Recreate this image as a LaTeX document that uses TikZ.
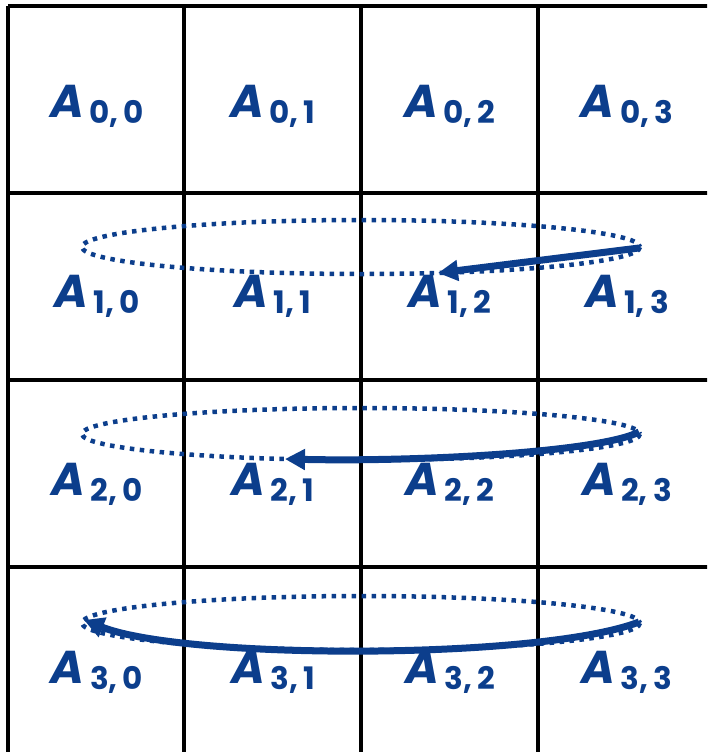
\documentclass[tikz,border=0pt]{standalone}
\usepackage{fontspec}
\setmainfont{Poppins}
\usetikzlibrary{arrows.meta}
\definecolor{ink}{RGB}{12,62,140}
\newcommand{\lbl}[2]{{\fontsize{46}{50}\selectfont\bfseries\itshape A}\raisebox{-6pt}{\fontsize{31}{34}\selectfont\bfseries\,#1,\,#2}}
\tikzset{
  grid/.style={line width=3.2pt, black},
  lab/.style={inner sep=0pt, anchor=base, text=ink},
  dotring/.style={ink, line width=4.5pt, dash pattern=on 4.5pt off 5.5pt},
  sweep/.style={ink, line width=7pt, -{Triangle[length=20pt,width=20pt]}}
}
\begin{document}
\begin{tikzpicture}[x=1pt,y=-1pt]
\useasboundingbox (0,0) rectangle (707,752);
\clip (0,0) rectangle (707,752);
% grid
\foreach \x in {8,184,361,538} \draw[grid] (\x,6) -- (\x,760);
\foreach \y in {6,193,380,567} \draw[grid] (8,\y) -- (720,\y);
% labels
\foreach \r/\yb in {0/117,1/307,2/495,3/683}{
  \foreach \c/\xc in {0/97,1/273,2/450,3/627}{
    \node[lab] (a\r\c) at (\xc,\yb) {\lbl{\r}{\c}};
  }
}
% dotted ellipses
\draw[dotring] (361,247) ellipse[x radius=279, y radius=27];
\draw[dotring] (361,434) ellipse[x radius=279, y radius=26];
\draw[dotring] (361,623) ellipse[x radius=279, y radius=27];
% arrow endpoints
\coordinate (s1) at (639,248);
\coordinate (e1) at (438,273);
\coordinate (s2) at (639,432);
\coordinate (c2a) at (600,452);
\coordinate (c2b) at (420,462);
\coordinate (e2) at (285,459);
\coordinate (s3) at (639,622);
\coordinate (c3a) at (540,660);
\coordinate (c3b) at (185,660);
\coordinate (e3) at (84,620);
\draw[sweep] (s1) -- (e1);
\draw[sweep] (s2) .. controls (c2a) and (c2b) .. (e2);
\draw[sweep] (s3) .. controls (c3a) and (c3b) .. (e3);
\end{tikzpicture}
\end{document}
